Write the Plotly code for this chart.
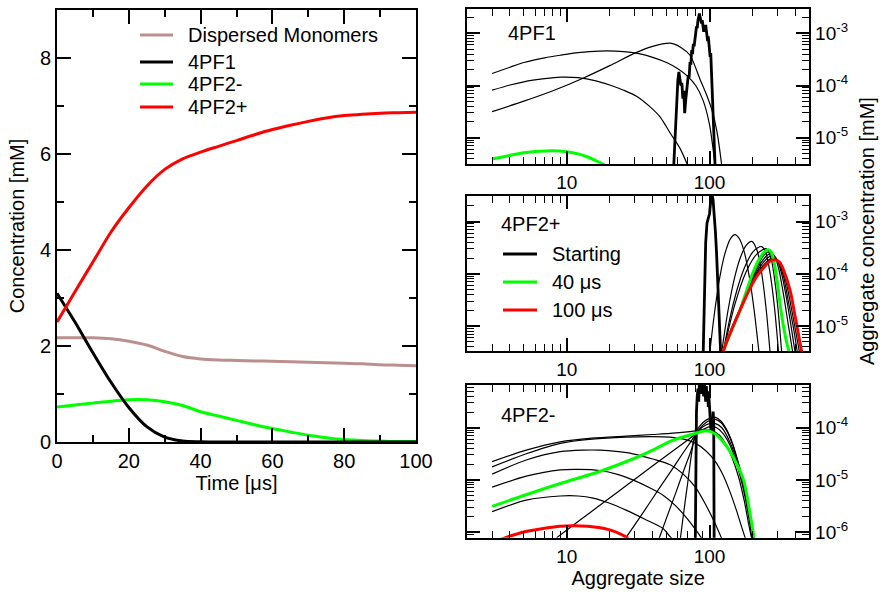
import numpy as np
import plotly.graph_objects as go

W, H = 880, 597
FONT = "Liberation Sans, Arial, Helvetica, sans-serif"

BROWN = "#bc8f8f"
GREEN = "#00ff00"
RED = "#ff0000"
BLACK = "#000000"

# ---------------- time courses (left panel) ----------------
time_us = [0, 5, 10, 15, 20, 25, 30, 35, 40, 45, 50, 55, 60, 65, 70, 75, 80, 85, 90, 95, 100]
conc_monomers = [2.17, 2.17, 2.17, 2.15, 2.10, 2.02, 1.89, 1.78, 1.73, 1.71, 1.70,
                 1.69, 1.68, 1.67, 1.66, 1.65, 1.64, 1.63, 1.61, 1.60, 1.59]
conc_4pf1 = [3.10, 2.50, 1.86, 1.25, 0.72, 0.32, 0.10, 0.02, 0.005, 0.0, 0.0,
             0.0, 0.0, 0.0, 0.0, 0.0, 0.0, 0.0, 0.0, 0.0, 0.0]
conc_4pf2_minus = [0.73, 0.77, 0.81, 0.85, 0.88, 0.88, 0.84, 0.76, 0.63, 0.54, 0.45,
                   0.36, 0.28, 0.21, 0.14, 0.09, 0.05, 0.03, 0.02, 0.01, 0.01]
conc_4pf2_plus = [2.50, 3.13, 3.75, 4.37, 4.88, 5.33, 5.68, 5.90, 6.04, 6.16, 6.28,
                  6.40, 6.51, 6.60, 6.68, 6.75, 6.80, 6.83, 6.85, 6.86, 6.87]

# ---------------- size distributions (right panels) ----------------
# values are log10 of the aggregate concentration in mM

# 4PF1
pf1_start_size = [56, 58, 60, 61, 62, 63, 64, 65, 66, 67, 68, 69, 70, 71, 72, 73, 74, 75, 76, 77,
                  78, 79, 80, 81, 82, 83, 84, 85, 86, 87, 88, 89, 90, 91, 92, 93, 94, 95, 96, 97,
                  98, 99, 100, 101, 102, 103, 104, 105, 106, 107, 108, 110]
pf1_start_lc = [-5.6, -4.6, -3.9, -3.74, -3.85, -4.0, -3.95, -4.25, -4.1, -4.53, -4.3, -4.1, -4.02,
                -3.8, -3.85, -3.55, -3.6, -3.32, -3.4, -3.2, -3.25, -3.05, -3.0, -2.87, -2.9,
                -2.75, -2.7, -2.62, -2.7, -2.78, -2.81, -2.75, -2.92, -2.97, -2.88, -2.9, -2.84,
                -2.95, -3.0, -3.15, -3.06, -3.25, -3.3, -3.45, -3.38, -3.7, -3.9, -4.28, -4.6,
                -5.0, -5.3, -5.7]
pf1_a_size = [3, 4, 5, 7, 9, 12, 17, 25, 32, 40, 50, 60, 70, 80, 90, 100, 110]
pf1_a_lc = [-3.77, -3.65, -3.56, -3.47, -3.42, -3.37, -3.34, -3.35, -3.39, -3.46, -3.56,
            -3.68, -3.82, -4.0, -4.28, -4.75, -5.6]
pf1_b_size = [3, 4, 5, 7, 9, 12, 16, 20, 25, 31, 38, 45, 53, 62, 72]
pf1_b_lc = [-4.09, -3.99, -3.93, -3.87, -3.84, -3.85, -3.91, -3.99, -4.09, -4.21, -4.40,
            -4.60, -4.91, -5.2, -5.6]
pf1_c_size = [3, 5, 8, 13, 20, 30, 40, 53, 63, 73, 86, 96, 104, 113, 122]
pf1_c_lc = [-4.5, -4.3, -4.1, -3.86, -3.62, -3.38, -3.25, -3.19, -3.27, -3.42, -3.89, -4.2,
            -4.47, -4.9, -5.55]
pf1_40us_size = [3, 4, 5, 6.5, 8, 10, 12, 14, 16, 18, 20]
pf1_40us_lc = [-5.41, -5.34, -5.29, -5.26, -5.25, -5.27, -5.31, -5.37, -5.44, -5.51, -5.6]

# 4PF2+
pf2p_start_size = [90, 92, 94, 96, 98, 100, 102, 104, 106, 108, 110, 112, 114, 116, 118, 120]
pf2p_start_lc = [-5.7, -4.5, -3.4, -3.03, -2.94, -2.85, -2.6, -2.45, -2.6, -2.85, -3.2, -3.6,
                 -4.1, -4.6, -5.1, -5.6]
pf2p_c1_size = [100, 108, 118, 128, 140, 151, 162, 175, 190, 205, 222]
pf2p_c1_lc = [-5.55, -4.78, -4.07, -3.62, -3.33, -3.25, -3.33, -3.58, -4.06, -4.68, -5.5]
pf2p_c2_size = [122, 135, 150, 165, 180, 198, 215, 232, 250, 265]
pf2p_c2_lc = [-5.48, -4.69, -4.07, -3.68, -3.46, -3.38, -3.55, -3.99, -4.71, -5.48]
pf2p_c3_size = [125, 140, 160, 180, 200, 218, 232, 248, 265, 285, 304]
pf2p_c3_lc = [-5.48, -4.81, -4.2, -3.82, -3.59, -3.5, -3.48, -3.6, -3.97, -4.64, -5.48]
pf2p_c4_size = [125, 150, 180, 215, 250, 270, 290, 305, 320]
pf2p_c4_lc = [-5.5, -4.6, -3.97, -3.62, -3.52, -3.71, -4.24, -4.81, -5.5]
pf2p_c5_size = [125, 145, 164, 200, 230, 250, 265, 285, 305, 330, 355, 385]
pf2p_c5_lc = [-5.45, -5.0, -4.66, -4.05, -3.72, -3.6, -3.58, -3.66, -3.9, -4.4, -4.95, -5.55]
pf2p_c6_size = [125, 145, 164, 200, 235, 255, 272, 295, 320, 345, 370, 400]
pf2p_c6_lc = [-5.45, -5.0, -4.66, -4.08, -3.75, -3.64, -3.62, -3.72, -4.0, -4.45, -4.95, -5.55]
pf2p_c7_size = [125, 145, 164, 200, 240, 260, 278, 300, 330, 355, 385, 415]
pf2p_c7_lc = [-5.46, -5.01, -4.67, -4.1, -3.77, -3.68, -3.66, -3.74, -4.05, -4.5, -5.0, -5.55]
pf2p_c8_size = [125, 145, 164, 200, 245, 265, 283, 310, 340, 365, 395, 430]
pf2p_c8_lc = [-5.47, -5.02, -4.68, -4.12, -3.8, -3.72, -3.70, -3.8, -4.1, -4.5, -5.0, -5.55]
pf2p_40us_size = [125, 145, 164, 173, 200, 225, 245, 258, 270, 281, 299, 321, 348, 370]
pf2p_40us_lc = [-5.48, -5.03, -4.69, -4.5, -4.0, -3.7, -3.57, -3.54, -3.58, -3.73, -4.18,
                -4.82, -5.33, -5.6]
pf2p_100us_size = [120, 130, 145, 164, 185, 214, 240, 265, 288, 310, 330, 366, 398, 431, 450]
pf2p_100us_lc = [-5.62, -5.35, -5.03, -4.69, -4.37, -4.05, -3.88, -3.76, -3.73, -3.78, -3.93,
                 -4.31, -4.82, -5.33, -5.6]

# 4PF2-
pf2m_start_size = [79, 80, 81, 82, 83, 84, 85, 86, 87, 88, 89, 90, 91, 92, 93, 94, 95, 96, 97,
                   98, 99, 100, 101, 102, 103, 104, 105, 106, 107, 108]
pf2m_start_lc = [-7.0, -4.04, -3.7, -3.4, -3.25, -3.5, -3.1, -3.3, -3.15, -3.35, -3.05, -3.2,
                 -3.4, -3.1, -3.3, -3.5, -3.2, -3.45, -3.3, -3.6, -3.4, -3.7, -3.9, -4.0, -4.05,
                 -3.95, -4.0, -3.69, -3.9, -7.0]
pf2m_e1_size = [62, 70, 80, 90, 100, 110, 120, 132, 145, 155, 166, 176, 186, 196, 206]
pf2m_e1_lc = [-6.2, -5.1, -4.1, -3.9, -3.82, -3.8, -3.87, -4.04, -4.3, -4.56, -4.86, -5.19,
              -5.5, -5.83, -6.15]
pf2m_e2_size = [44, 50, 58, 66, 74, 81, 90, 100, 110, 120, 132, 145, 155, 166, 176, 186, 196, 204]
pf2m_e2_lc = [-6.15, -5.73, -5.25, -4.82, -4.45, -4.11, -3.95, -3.86, -3.84, -3.9, -4.06, -4.32,
              -4.58, -4.9, -5.22, -5.55, -5.88, -6.15]
pf2m_e3_size = [26, 35, 45, 55, 65, 73, 81, 90, 100, 110, 122, 135, 150, 165, 180, 195, 205]
pf2m_e3_lc = [-6.11, -5.59, -5.14, -4.79, -4.49, -4.29, -4.11, -3.98, -3.92, -3.92, -4.0, -4.2,
              -4.5, -4.88, -5.3, -5.75, -6.1]
pf2m_e4_size = [8.5, 12, 18, 27, 40, 55, 70, 81, 92, 102, 112, 125, 140, 155, 170, 185, 198]
pf2m_e4_lc = [-6.11, -5.8, -5.44, -5.08, -4.73, -4.45, -4.24, -4.11, -4.02, -3.98, -4.0, -4.12,
              -4.35, -4.7, -5.1, -5.6, -6.1]
pf2m_k1_size = [3, 5.2, 9, 15, 26, 40, 53, 70, 85, 95, 105, 118, 132, 145, 160, 175, 188, 198]
pf2m_k1_lc = [-4.65, -4.43, -4.27, -4.2, -4.16, -4.13, -4.11, -4.08, -4.05, -4.04, -4.06, -4.15,
              -4.35, -4.6, -4.95, -5.4, -5.85, -6.15]
pf2m_k2_size = [3, 5.2, 9, 15, 26, 40, 53, 66, 80, 95, 110, 125, 140, 155, 170, 182]
pf2m_k2_lc = [-4.75, -4.5, -4.3, -4.22, -4.18, -4.17, -4.18, -4.22, -4.3, -4.45, -4.65, -4.92,
              -5.25, -5.6, -5.95, -6.2]
pf2m_k3_size = [3, 5.2, 9, 13, 17, 23, 29, 40, 53, 66, 80, 95, 110, 125]
pf2m_k3_lc = [-4.89, -4.62, -4.46, -4.43, -4.43, -4.46, -4.5, -4.6, -4.71, -4.9, -5.15, -5.5,
              -5.85, -6.2]
pf2m_k4_size = [3, 5.2, 9, 12, 17, 23, 29, 38, 47, 58, 70, 82, 95]
pf2m_k4_lc = [-5.14, -4.93, -4.81, -4.8, -4.82, -4.9, -5.0, -5.15, -5.29, -5.5, -5.75, -6.0, -6.25]
pf2m_k5_size = [3, 5.2, 9, 12, 15.3, 20, 26, 35, 47, 53, 58]
pf2m_k5_lc = [-5.61, -5.39, -5.31, -5.31, -5.35, -5.45, -5.58, -5.75, -5.93, -6.09, -6.2]
pf2m_40us_size = [3, 5, 9, 17, 29, 40, 53, 77, 95, 110, 132, 150, 173, 192, 206]
pf2m_40us_lc = [-5.51, -5.3, -5.07, -4.84, -4.6, -4.43, -4.26, -4.12, -4.06, -4.12, -4.36,
                -4.62, -5.0, -5.64, -6.15]
pf2m_100us_size = [3, 4, 5, 7, 9, 11, 14, 18, 22, 27]
pf2m_100us_lc = [-6.2, -6.08, -6.0, -5.93, -5.89, -5.88, -5.89, -5.93, -6.0, -6.12]

# axis labels
left_xticks = [0, 20, 40, 60, 80, 100]
left_yticks = [0, 2, 4, 6, 8]
size_ticks = [10, 100]
conc_tick_exponents = [-6, -5, -4, -3]


def px_x(p):
    return p / W


def px_y(p):
    return 1 - p / H


fig = go.Figure()


def add_line(x, y, color, width, xa, ya, shape="spline"):
    fig.add_trace(go.Scatter(
        x=x, y=y, mode="lines", xaxis=xa, yaxis=ya, showlegend=False,
        line=dict(color=color, width=width, shape=shape, smoothing=0.8 if shape == "spline" else None),
        hoverinfo="skip"))


def add_dist(size, lc, color, width, xa, ya, shape="spline"):
    add_line(size, list(10 ** np.array(lc)), color, width, xa, ya, shape)


# left panel
add_line(time_us, conc_monomers, BROWN, 3, "x", "y")
add_line(time_us, conc_4pf2_minus, GREEN, 3, "x", "y")
add_line(time_us, conc_4pf1, BLACK, 3, "x", "y")
add_line(time_us, conc_4pf2_plus, RED, 3, "x", "y")

# 4PF1 panel
for s, c in [(pf1_a_size, pf1_a_lc), (pf1_b_size, pf1_b_lc), (pf1_c_size, pf1_c_lc)]:
    add_dist(s, c, BLACK, 1.2, "x2", "y2")
add_dist(pf1_start_size, pf1_start_lc, BLACK, 2.8, "x2", "y2", "linear")
add_dist(pf1_40us_size, pf1_40us_lc, GREEN, 3, "x2", "y2")

# 4PF2+ panel
for s, c in [(pf2p_c1_size, pf2p_c1_lc), (pf2p_c2_size, pf2p_c2_lc), (pf2p_c3_size, pf2p_c3_lc),
             (pf2p_c4_size, pf2p_c4_lc), (pf2p_c5_size, pf2p_c5_lc), (pf2p_c6_size, pf2p_c6_lc),
             (pf2p_c7_size, pf2p_c7_lc), (pf2p_c8_size, pf2p_c8_lc)]:
    add_dist(s, c, BLACK, 1.2, "x3", "y3")
add_dist(pf2p_start_size, pf2p_start_lc, BLACK, 2.8, "x3", "y3", "linear")
add_dist(pf2p_40us_size, pf2p_40us_lc, GREEN, 3, "x3", "y3")
add_dist(pf2p_100us_size, pf2p_100us_lc, RED, 3, "x3", "y3")

# 4PF2- panel
for s, c in [(pf2m_e1_size, pf2m_e1_lc), (pf2m_e2_size, pf2m_e2_lc), (pf2m_e3_size, pf2m_e3_lc),
             (pf2m_e4_size, pf2m_e4_lc), (pf2m_k1_size, pf2m_k1_lc), (pf2m_k2_size, pf2m_k2_lc),
             (pf2m_k3_size, pf2m_k3_lc), (pf2m_k4_size, pf2m_k4_lc), (pf2m_k5_size, pf2m_k5_lc)]:
    add_dist(s, c, BLACK, 1.2, "x4", "y4")
add_dist(pf2m_start_size, pf2m_start_lc, BLACK, 2.8, "x4", "y4", "linear")
add_dist(pf2m_40us_size, pf2m_40us_lc, GREEN, 3, "x4", "y4")
add_dist(pf2m_100us_size, pf2m_100us_lc, RED, 3, "x4", "y4")

common = dict(showline=True, linecolor=BLACK, linewidth=2, mirror="allticks", ticks="inside",
              tickcolor=BLACK, tickwidth=1.5, showgrid=False, zeroline=False,
              tickfont=dict(family=FONT, size=20, color=BLACK))

size_minor = [v * m for v in (1, 10, 100) for m in range(2, 10) if 2 <= v * m <= 500]
conc_minor = [m * 10.0 ** e for e in range(-7, -1) for m in range(2, 10)]
conc_major_vals = [10.0 ** e for e in conc_tick_exponents]
conc_major_text = ["10<sup>%d</sup>" % e for e in conc_tick_exponents]

right_x = [px_x(467), px_x(809.3)]


def size_axis(dom_y, anchor, title=None):
    ax = dict(common, type="log", domain=right_x, anchor=anchor,
              range=[np.log10(2), np.log10(500)], tickmode="array",
              tickvals=size_ticks, ticktext=[str(v) for v in size_ticks], ticklen=13,
              minor=dict(tickmode="array", tickvals=size_minor, ticks="inside", ticklen=7,
                         tickcolor=BLACK, tickwidth=1.2))
    ax["tickfont"] = dict(family=FONT, size=19, color=BLACK)
    if title:
        ax["title"] = dict(text=title, font=dict(family=FONT, size=20, color=BLACK), standoff=4)
    return ax


def conc_axis(dom, rng, anchor):
    return dict(common, type="log", domain=dom, anchor=anchor, side="right", range=rng,
                tickmode="array", tickvals=conc_major_vals, ticktext=conc_major_text, ticklen=13,
                tickfont=dict(family=FONT, size=19, color=BLACK),
                minor=dict(tickmode="array", tickvals=conc_minor, ticks="inside", ticklen=7,
                           tickcolor=BLACK, tickwidth=1.2))


fig.update_layout(
    width=W, height=H, margin=dict(l=0, r=0, t=0, b=0),
    paper_bgcolor="white", plot_bgcolor="white", template="none", showlegend=False,
    font=dict(family=FONT, color=BLACK),
    xaxis=dict(common, domain=[px_x(57), px_x(416)], anchor="y", range=[0, 100],
               tickmode="array", tickvals=left_xticks, ticklen=14,
               minor=dict(dtick=10, ticks="inside", ticklen=7, tickcolor=BLACK, tickwidth=1.5),
               title=dict(text="Time [μs]", font=dict(family=FONT, size=20, color=BLACK), standoff=4)),
    yaxis=dict(common, domain=[px_y(442), px_y(10)], anchor="x", range=[0, 9],
               tickmode="array", tickvals=left_yticks, ticklen=14,
               minor=dict(dtick=1, ticks="inside", ticklen=7, tickcolor=BLACK, tickwidth=1.5),
               title=dict(text="Concentration [mM]", font=dict(family=FONT, size=20, color=BLACK),
                          standoff=10)),
    xaxis2=size_axis([px_y(164.3), px_y(9.3)], "y2"),
    yaxis2=conc_axis([px_y(164.3), px_y(9.3)], [-5.51, -2.54], "x2"),
    xaxis3=size_axis([px_y(351), px_y(196)], "y3"),
    yaxis3=conc_axis([px_y(351), px_y(196)], [-5.48, -2.51], "x3"),
    xaxis4=size_axis([px_y(537.7), px_y(385)], "y4", "Aggregate size"),
    yaxis4=conc_axis([px_y(537.7), px_y(385)], [-6.11, -3.18], "x4"),
)

TXT = dict(family=FONT, size=20, color=BLACK)
annotations = [
    dict(text="Aggregate concentration [mM]", x=px_x(867), y=px_y(231), textangle=-90,
         xanchor="center", yanchor="middle", font=TXT),
    dict(text="4PF1", x=px_x(506), y=px_y(33), xanchor="left", yanchor="middle", font=TXT),
    dict(text="4PF2+", x=px_x(499), y=px_y(224), xanchor="left", yanchor="middle", font=TXT),
    dict(text="4PF2-", x=px_x(499), y=px_y(415), xanchor="left", yanchor="middle", font=TXT),
]
shapes = []

# legend of the time-course panel
left_legend = [("Dispersed Monomers", BROWN, 35), ("4PF1", BLACK, 62),
               ("4PF2-", GREEN, 84), ("4PF2+", RED, 107)]
for name, color, yy in left_legend:
    shapes.append(dict(type="line", xref="paper", yref="paper", x0=px_x(140), x1=px_x(173),
                       y0=px_y(yy), y1=px_y(yy), line=dict(color=color, width=3)))
    annotations.append(dict(text=name, x=px_x(186), y=px_y(yy), xanchor="left",
                            yanchor="middle", font=TXT))

# legend of the distribution panels
right_legend = [("Starting", BLACK, 254), ("40 μs", GREEN, 282), ("100 μs", RED, 310)]
for name, color, yy in right_legend:
    shapes.append(dict(type="line", xref="paper", yref="paper", x0=px_x(503), x1=px_x(537),
                       y0=px_y(yy), y1=px_y(yy), line=dict(color=color, width=3)))
    annotations.append(dict(text=name, x=px_x(550), y=px_y(yy), xanchor="left",
                            yanchor="middle", font=TXT))

for a in annotations:
    a.update(xref="paper", yref="paper", showarrow=False)
fig.update_layout(annotations=annotations, shapes=shapes)

fig.write_html("out.html")
